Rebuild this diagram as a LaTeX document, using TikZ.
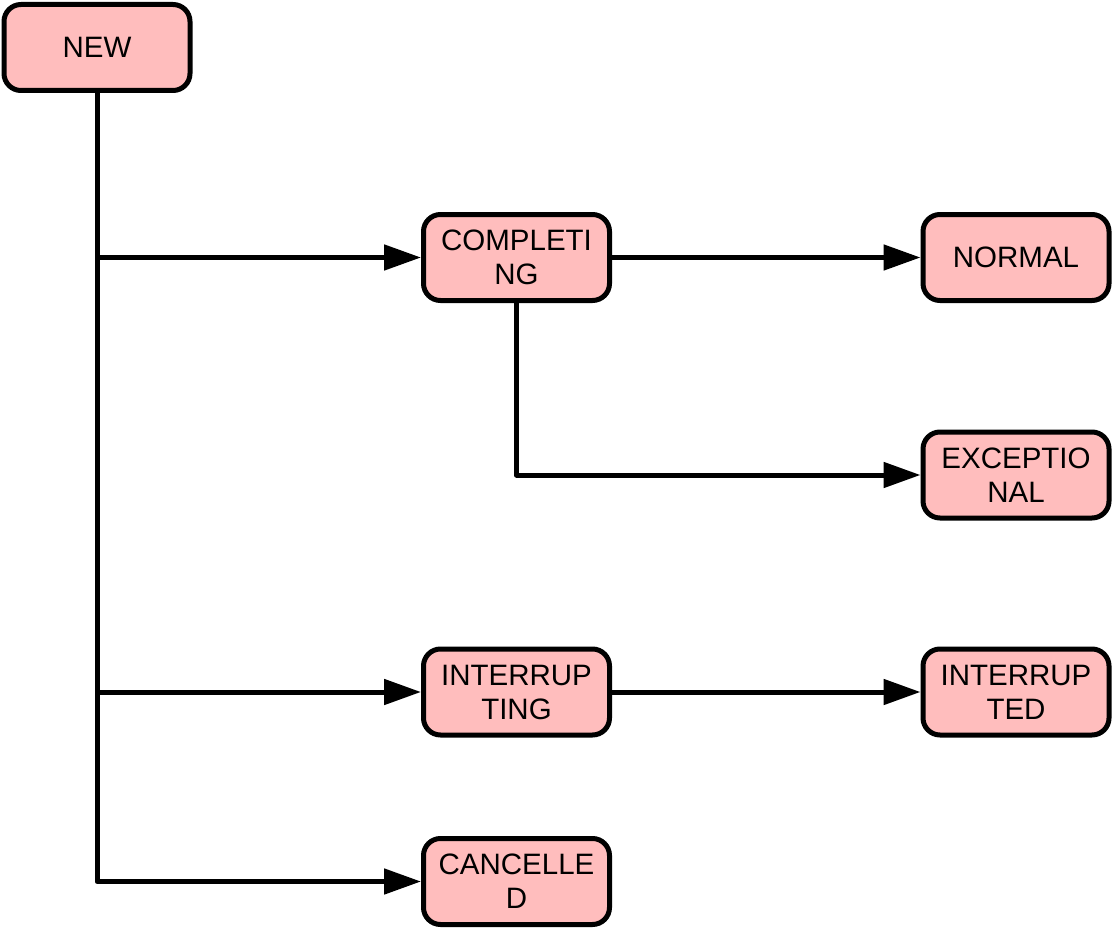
\documentclass[tikz,border=0pt]{standalone}
\usepackage{fontspec}
\setmainfont{Liberation Sans}
\usetikzlibrary{arrows.meta}
\definecolor{boxpink}{RGB}{255,189,189}
\begin{document}
\begin{tikzpicture}[x=1pt,y=-1pt,
  state/.style={draw=black, line width=5pt, fill=boxpink, rounded corners=17pt,
    minimum width=186pt, minimum height=86pt, inner sep=0pt, align=center,
    font=\fontsize{29.5}{34}\selectfont},
  conn/.style={draw=black, line width=5pt, line join=round,
    -{Triangle[length=37pt,width=25pt]}}]
\useasboundingbox (0,0) rectangle (1113,944);
\node[state] (new) at (97,47.5) {NEW};
\node[state] (comp) at (516.5,257.5) {COMPLETI\\NG};
\node[state] (norm) at (1016,257.5) {NORMAL};
\node[state] (exc) at (1016,475) {EXCEPTIO\\NAL};
\node[state] (intg) at (516.5,692) {INTERRUP\\TING};
\node[state] (intd) at (1016,692) {INTERRUP\\TED};
\node[state] (canc) at (516.5,881.5) {CANCELLE\\D};
\draw[conn] (new.south) |- (comp.west);
\draw[conn] (new.south) |- (intg.west);
\draw[conn] (new.south) |- (canc.west);
\draw[conn] (comp.east) -- (norm.west);
\draw[conn] (comp.south) |- (exc.west);
\draw[conn] (intg.east) -- (intd.west);
\end{tikzpicture}
\end{document}
